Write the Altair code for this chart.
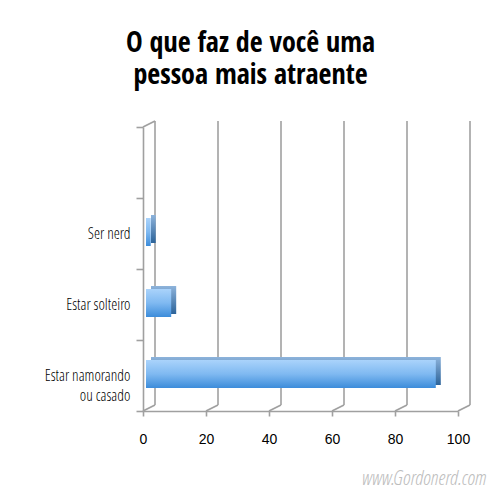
import altair as alt
import pandas as pd

# ---- data ----
categories = [" ", "Ser nerd", "Estar solteiro", "Estar namorando|ou casado"]
bar_categories = ["Ser nerd", "Estar solteiro", "Estar namorando|ou casado"]
bar_values = [1.5, 8, 92]
tick_values = [0, 20, 40, 60, 80, 100]
title_lines = ["O que faz de você uma", "pessoa mais atraente"]
watermark = "www.Gordonerd.com"

W, H = 315, 284
DX, DY = 12, -6
NARROW = ("Noto Sans ExtraCondensed, Noto Sans Condensed, Open Sans Condensed, "
          "Roboto Condensed, Liberation Sans Narrow, DejaVu Sans Condensed, sans-serif")
NARROW_LIGHT = "Open Sans Condensed Light, " + NARROW
GRID = "#a0a0a0"

bars = pd.DataFrame({"cat": bar_categories, "value": bar_values})
ticks = pd.DataFrame({"tick": tick_values})
wm = pd.DataFrame({"t": [watermark]})

x_scale = alt.Scale(domain=[0, 100], nice=False, zero=True)
y_scale = alt.Scale(domain=categories, paddingInner=0, paddingOuter=0)

x_axis = alt.Axis(
    values=tick_values, grid=False, title=None, labelFlush=False,
    domainColor=GRID, domainWidth=1.6, tickColor=GRID, tickWidth=1.6, tickSize=5,
    labelFont="Liberation Sans, Arial, sans-serif", labelFontSize=14, labelColor="#000",
    labelPadding=16)
y_axis = alt.Axis(
    title=None, tickBand="extent", tickSize=7, tickColor=GRID, tickWidth=1.6,
    domainColor=GRID, domainWidth=1.6, labelFont=NARROW_LIGHT, labelFontSize=15.5,
    labelFontWeight=300, labelColor="#000", labelPadding=6, labelLineHeight=20,
    labelExpr="split(datum.label, '|')")

back_lines = alt.Chart(ticks).mark_rule(color=GRID, strokeWidth=1.6, xOffset=DX).encode(
    x=alt.X("tick:Q", scale=x_scale, axis=x_axis),
    y=alt.value(DY), y2=alt.value(H + DY))

floor = alt.Chart(ticks).mark_rule(color=GRID, strokeWidth=1.6, x2Offset=DX).encode(
    x=alt.X("tick:Q", scale=x_scale, axis=x_axis), x2=alt.X2("tick:Q"),
    y=alt.value(H), y2=alt.value(H + DY))

top_diag = alt.Chart(ticks).transform_filter("datum.tick == 0").mark_rule(
    color=GRID, strokeWidth=1.6, x2Offset=DX).encode(
    x=alt.X("tick:Q", scale=x_scale, axis=x_axis), x2=alt.X2("tick:Q"),
    y=alt.value(0), y2=alt.value(DY))

front_grad = alt.Gradient(gradient="linear", x1=0, x2=0, y1=0, y2=1, stops=[
    alt.GradientStop(color="#aad3fb", offset=0),
    alt.GradientStop(color="#7fb9f1", offset=0.5),
    alt.GradientStop(color="#3c8cda", offset=1)])
ext_grad = alt.Gradient(gradient="linear", x1=0, x2=0, y1=0, y2=1, stops=[
    alt.GradientStop(color="#8db3db", offset=0),
    alt.GradientStop(color="#2c6399", offset=1)])

ext = alt.Chart(bars).mark_bar(size=28, fill=ext_grad, xOffset=8, x2Offset=8, yOffset=-4.5).encode(
    x=alt.X("value:Q", scale=x_scale, axis=x_axis),
    y=alt.Y("cat:N", scale=y_scale, axis=y_axis))

front = alt.Chart(bars).mark_bar(size=28, fill=front_grad, xOffset=3, x2Offset=3, yOffset=-1.5).encode(
    x=alt.X("value:Q", scale=x_scale, axis=x_axis),
    y=alt.Y("cat:N", scale=y_scale, axis=y_axis))

mark_wm = alt.Chart(wm).mark_text(font=NARROW_LIGHT, fontWeight=300, fontStyle="italic",
                                  fontSize=20, color="#bdbdbd",
                                  align="right", baseline="bottom").encode(
    text="t:N", x=alt.value(W + 28), y=alt.value(H + 78))

chart = alt.layer(back_lines, floor, top_diag, ext, front, mark_wm).properties(
    width=W, height=H,
    padding={"left": 135, "top": 119, "right": 34, "bottom": 81},
    autosize=alt.AutoSizeParams(type="none"),
    title=alt.TitleParams(text=title_lines, font=NARROW, fontSize=28, fontWeight=800,
                          color="#000", anchor="middle", dx=-50, offset=30, lineHeight=32),
).configure_view(stroke=None)

chart.save("out.html", embed_options={"renderer": "svg", "actions": False})
